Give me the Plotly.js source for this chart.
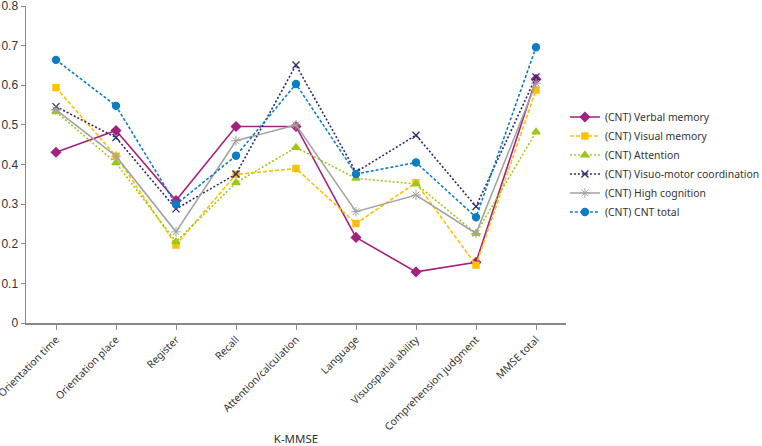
<!DOCTYPE html>
<html><head><meta charset="utf-8">
<script src="https://cdn.plot.ly/plotly-3.0.1.min.js"></script>
<style>body{margin:0;background:#fff}#c{width:762px;height:446px}</style>
</head><body><div id="c"></div>
<script>
const categories = ["Orientation time","Orientation place","Register","Recall","Attention/calculation","Language","Visuospatial ability","Comprehension judgment","MMSE total"];
const verbalMemory = [0.431,0.486,0.309,0.496,0.496,0.216,0.129,0.153,0.615];
const visualMemory = [0.594,0.421,0.197,0.375,0.390,0.251,0.354,0.146,0.588];
const attention = [0.533,0.404,0.205,0.354,0.443,0.365,0.351,0.226,0.482];
const visuoMotor = [0.546,0.468,0.288,0.376,0.651,0.381,0.474,0.294,0.621];
const highCognition = [0.538,0.421,0.230,0.460,0.500,0.281,0.323,0.226,0.605];
const cntTotal = [0.664,0.548,0.299,0.422,0.603,0.376,0.405,0.267,0.696];
const names = ["(CNT) Verbal memory","(CNT) Visual memory","(CNT) Attention","(CNT) Visuo-motor coordination","(CNT) High cognition","(CNT) CNT total"];
const yTickVals = [0,0.1,0.2,0.3,0.4,0.5,0.6,0.7,0.8];
const yTickText = ["0","0.1","0.2","0.3","0.4","0.5","0.6","0.7","0.8"];

const styles = [
  {color:"#A3217F", dash:"solid", symbol:"diamond", size:7, lw:1.4},
  {color:"#FFC000", dash:"4px,2px", symbol:"square", size:6, lw:1.4},
  {color:"#9DC71F", dash:"2px,2px", symbol:"triangle-up", size:7, lw:1.4},
  {color:"#2E2A6B", dash:"2px,2px", symbol:"x-thin-open", size:7, lw:1.3},
  {color:"#A3A3A3", dash:"solid", symbol:"asterisk-open", size:8, lw:1},
  {color:"#0E7DC2", dash:"3px,2px", symbol:"circle", size:7, lw:1.4}
];
const series = [verbalMemory, visualMemory, attention, visuoMotor, highCognition, cntTotal];
const traces = series.map((vals,i)=>({
  type:"scatter", mode:"lines+markers", x:categories, y:vals, name:names[i],
  line:{color:styles[i].color, width:1.6, dash:styles[i].dash},
  marker:{color:styles[i].color, symbol:styles[i].symbol, size:styles[i].size, line:{color:styles[i].color, width:styles[i].lw}}
}));

const layout = {
  width:762, height:446,
  margin:{l:26, r:196, t:6, b:123, autoexpand:false},
  paper_bgcolor:"#fff", plot_bgcolor:"#fff",
  font:{family:"Noto Sans, sans-serif", color:"#333"},
  showlegend:true,
  legend:{x:0.998, y:0.5, xanchor:"left", yanchor:"middle", font:{size:10.4, color:"#333"}, tracegroupgap:0, bgcolor:"rgba(0,0,0,0)"},
  xaxis:{
    type:"category", showgrid:false, zeroline:false, automargin:false,
    showline:true, linecolor:"#888", linewidth:1.5,
    ticks:"outside", ticklen:5, tickcolor:"#888",
    tickangle:-45, tickfont:{size:10.4, color:"#333", family:"Noto Sans, sans-serif"},
    ticklabeloverflow:"allow",
    title:{text:"K-MMSE", font:{size:11.5, color:"#333"}, standoff:10},
    range:[-0.5, 8.5]
  },
  yaxis:{
    range:[0,0.8], tickvals:yTickVals, ticktext:yTickText, showgrid:false, zeroline:false, automargin:false,
    showline:true, linecolor:"#888", linewidth:1.5,
    ticks:"outside", ticklen:4, tickcolor:"#888",
    ticklabeloverflow:"allow",
    tickfont:{size:12, color:"#333", family:"Liberation Sans, Arial, sans-serif"}
  }
};
Plotly.newPlot("c", traces, layout, {displayModeBar:false, staticPlot:true});
</script></body></html>
